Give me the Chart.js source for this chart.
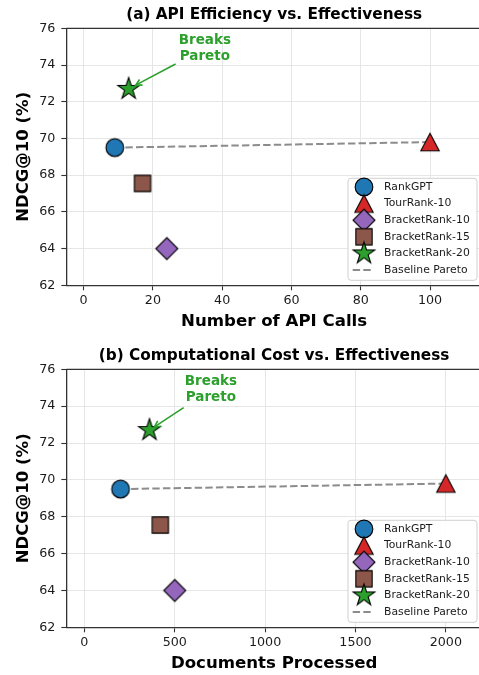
<!DOCTYPE html>
<html>
<head>
<meta charset="utf-8">
<script src="https://cdn.jsdelivr.net/npm/chart.js@4.4.1/dist/chart.umd.min.js"></script>
<style>
  html, body { margin: 0; padding: 0; background: #fff; overflow: hidden; width: 479px; height: 675px; }
  canvas { display: block; }
</style>
</head>
<body>
<canvas id="apiChart" width="482" height="340"></canvas>
<canvas id="docChart" width="482" height="335"></canvas>
<script>
// ---- data ----
const methods = ['RankGPT', 'TourRank-10', 'BracketRank-10', 'BracketRank-15', 'BracketRank-20'];
const ndcg = [69.5, 69.8, 64.0, 67.55, 72.7];
const apiCalls = [9, 100, 24, 17, 13];
const docsProcessed = [200, 2000, 500, 420, 360];
const paretoMethods = ['RankGPT', 'TourRank-10'];
const callTicks = [0, 20, 40, 60, 80, 100];
const docTicks = [0, 500, 1000, 1500, 2000];
const ndcgTicks = [62, 64, 66, 68, 70, 72, 74, 76];
const highlight = 'BracketRank-20';
const highlightText = ['Breaks', 'Pareto'];

// ---- styling ----
const colors = ['#1f77b4', '#d62728', '#9467bd', '#8c564b', '#2ca02c'];
const shapes = ['circle', 'triangle', 'diamond', 'square', 'star'];
const FONT = '"DejaVu Sans", "Liberation Sans", sans-serif';
const GREEN = '#2ca02c';

function makeMarker(kind, fill) {
  const size = 28;
  const c = document.createElement('canvas');
  c.width = size; c.height = size;
  const g = c.getContext('2d');
  g.translate(size / 2, size / 2);
  g.beginPath();
  if (kind === 'circle') {
    g.arc(0, 0, 8.85, 0, Math.PI * 2);
  } else if (kind === 'triangle') {
    g.moveTo(0, -8.7); g.lineTo(9.2, 8.7); g.lineTo(-9.2, 8.7); g.closePath();
  } else if (kind === 'diamond') {
    g.moveTo(0, -11); g.lineTo(11, 0); g.lineTo(0, 11); g.lineTo(-11, 0); g.closePath();
  } else if (kind === 'square') {
    g.rect(-8.15, -8.15, 16.3, 16.3);
  } else {
    const R = 11.4, r = R * 0.381966;
    for (let i = 0; i < 10; i++) {
      const rad = (i % 2 === 0) ? R : r;
      const a = -Math.PI / 2 + i * Math.PI / 5;
      const px = Math.cos(a) * rad, py = Math.sin(a) * rad;
      if (i === 0) g.moveTo(px, py); else g.lineTo(px, py);
    }
    g.closePath();
  }
  g.fillStyle = fill;
  g.fill();
  g.lineWidth = 1.1;
  g.strokeStyle = '#000';
  g.lineJoin = 'miter';
  g.stroke();
  return c;
}
const markers = shapes.map((s, i) => makeMarker(s, colors[i]));

const figurePlugin = {
  id: 'figureExtras',
  afterDraw(chart, args, o) {
    const ctx = chart.ctx;
    const a = chart.chartArea;
    const xs = chart.scales.x, ys = chart.scales.y;
    ctx.save();

    // top spine
    ctx.strokeStyle = '#333';
    ctx.lineWidth = 1.3;
    ctx.beginPath();
    ctx.moveTo(a.left, a.top);
    ctx.lineTo(a.right, a.top);
    ctx.stroke();

    // title
    ctx.fillStyle = '#000';
    ctx.font = 'bold 15.3px ' + FONT;
    ctx.textAlign = 'center';
    ctx.textBaseline = 'middle';
    ctx.fillText(o.title, (a.left + a.right) / 2, o.titleY);

    // highlight annotation with arrow
    const hi = methods.indexOf(highlight);
    const sx = xs.getPixelForValue(o.xValues[hi]);
    const sy = ys.getPixelForValue(ndcg[hi]);
    const tx = xs.getPixelForValue(o.noteX);
    const ty = ys.getPixelForValue(o.noteY);
    ctx.font = 'bold 13.5px ' + FONT;
    ctx.fillStyle = GREEN;
    const lh = 16.6;
    highlightText.forEach((t, i) => {
      ctx.fillText(t, tx, ty + (i - (highlightText.length - 1) / 2) * lh);
    });
    const w = Math.max(...highlightText.map(t => ctx.measureText(t).width)) / 2 + 1;
    const h = highlightText.length * lh / 2;
    const dx = sx - tx, dy = sy - ty;
    const tEdge = Math.min(Math.abs(w / dx), Math.abs(h / dy));
    const len = Math.hypot(dx, dy);
    const ux = dx / len, uy = dy / len;
    const startD = tEdge * len + 2.5;
    const endD = len - o.tipGap;
    const x0 = tx + ux * startD, y0 = ty + uy * startD;
    const x1 = tx + ux * endD, y1 = ty + uy * endD;
    ctx.strokeStyle = GREEN;
    ctx.lineWidth = 1.6;
    ctx.lineCap = 'butt';
    ctx.beginPath();
    ctx.moveTo(x0, y0); ctx.lineTo(x1, y1);
    ctx.stroke();
    const hl = 6, hw = 3.2;
    ctx.beginPath();
    ctx.moveTo(x1 - ux * hl - uy * hw, y1 - uy * hl + ux * hw);
    ctx.lineTo(x1, y1);
    ctx.lineTo(x1 - ux * hl + uy * hw, y1 - uy * hl - ux * hw);
    ctx.stroke();

    // legend box (lower right)
    const bw = 129, bh = 102;
    const bx = a.right - 5 - bw, by = a.bottom - 5 - bh;
    ctx.beginPath();
    if (ctx.roundRect) ctx.roundRect(bx, by, bw, bh, 3); else ctx.rect(bx, by, bw, bh);
    ctx.fillStyle = 'rgba(255,255,255,0.9)';
    ctx.fill();
    ctx.strokeStyle = '#d0d0d0';
    ctx.lineWidth = 1;
    ctx.stroke();
    ctx.font = '10.8px ' + FONT;
    ctx.textAlign = 'left';
    ctx.textBaseline = 'middle';
    const rowH = 16.6;
    const items = chart.data.datasets;
    items.forEach((ds, i) => {
      const cy = by + 8.7 + i * rowH;
      if (ds.showLine) {
        ctx.strokeStyle = ds.borderColor;
        ctx.lineWidth = ds.borderWidth;
        ctx.setLineDash(ds.borderDash);
        ctx.beginPath();
        ctx.moveTo(bx + 4.7, cy);
        ctx.lineTo(bx + 24.5, cy);
        ctx.stroke();
        ctx.setLineDash([]);
      } else {
        const m = ds.pointStyle;
        ctx.drawImage(m, bx + 16 - m.width / 2, cy - m.height / 2);
      }
      ctx.fillStyle = '#1a1a1a';
      ctx.fillText(ds.label, bx + 36, cy);
    });
    ctx.restore();
  }
};

function buildChart(id, cfg) {
  const canvas = document.getElementById(id);
  const H = canvas.height;
  const datasets = methods.map((m, i) => ({
    label: m,
    data: [{ x: cfg.xValues[i], y: ndcg[i] }],
    pointStyle: markers[i],
    pointRadius: 10,
    pointHoverRadius: 10,
    backgroundColor: colors[i],
    borderColor: '#000',
    order: 4 - i
  }));
  datasets.push({
    label: 'Baseline Pareto',
    data: paretoMethods.map(m => {
      const k = methods.indexOf(m);
      return { x: cfg.xValues[k], y: ndcg[k] };
    }),
    showLine: true,
    pointRadius: 0,
    borderColor: 'rgba(128,128,128,0.9)',
    borderWidth: 2,
    borderDash: [7.4, 3.2],
    order: 10
  });

  const zeroPad = s => {
    s.paddingLeft = 0; s.paddingRight = 0; s.paddingTop = 0; s.paddingBottom = 0;
    if (s._margins) { s._margins.left = 0; s._margins.right = 0; s._margins.top = 0; s._margins.bottom = 0; }
  };

  return new Chart(canvas, {
    type: 'scatter',
    data: { datasets },
    plugins: [figurePlugin],
    options: {
      responsive: false,
      animation: false,
      devicePixelRatio: 1,
      layout: { autoPadding: false, padding: { top: cfg.areaTop, left: 0, right: 0, bottom: 0 } },
      plugins: {
        legend: { display: false },
        tooltip: { enabled: false },
        figureExtras: {
          title: cfg.title, titleY: cfg.titleY, xValues: cfg.xValues,
          noteX: cfg.noteX, noteY: cfg.noteY, tipGap: cfg.tipGap
        }
      },
      scales: {
        x: {
          type: 'linear',
          min: cfg.xMin, max: cfg.xMax,
          afterBuildTicks: s => { s.ticks = cfg.xTicks.map(v => ({ value: v })); },
          afterFit: s => {
            s.height = H - cfg.areaBottom;
            zeroPad(s);
          },
          grid: { color: '#e6e6e6', lineWidth: 1, tickLength: 5, tickColor: '#333', tickWidth: 1.1 },
          border: { display: true, color: '#333', width: 1.3 },
          ticks: {
            color: '#1a1a1a', font: { family: FONT, size: 12.7 }, padding: 3, maxRotation: 0,
            callback: v => String(v)
          },
          title: {
            display: true, text: cfg.xTitle, color: '#000',
            font: { family: FONT, size: 16.6, weight: 'bold' },
            padding: { top: 0, bottom: cfg.xTitlePad }
          }
        },
        y: {
          type: 'linear',
          min: 62, max: 76,
          afterBuildTicks: s => { s.ticks = ndcgTicks.map(v => ({ value: v })); },
          afterFit: s => {
            s.width = 66.3;
            zeroPad(s);
          },
          grid: { color: '#e6e6e6', lineWidth: 1, tickLength: 5, tickColor: '#333', tickWidth: 1.1 },
          border: { display: true, color: '#333', width: 1.3 },
          ticks: { color: '#1a1a1a', font: { family: FONT, size: 12.7 }, padding: 6, callback: v => String(v) },
          title: {
            display: true, text: 'NDCG@10 (%)', color: '#000',
            font: { family: FONT, size: 16.5, weight: 'bold' },
            padding: { top: 14, bottom: 0 }
          }
        }
      }
    }
  });
}

buildChart('apiChart', {
  title: '(a) API Efficiency vs. Effectiveness',
  titleY: 15,
  xTitle: 'Number of API Calls',
  xValues: apiCalls,
  xTicks: callTicks,
  xMin: -5, xMax: 115,
  areaTop: 28.3, areaBottom: 285.3,
  xTitlePad: 8,
  noteX: 35, noteY: 74.9, tipGap: 8
});

buildChart('docChart', {
  title: '(b) Computational Cost vs. Effectiveness',
  titleY: 16,
  xTitle: 'Documents Processed',
  xValues: docsProcessed,
  xTicks: docTicks,
  xMin: -100, xMax: 2200,
  areaTop: 29.3, areaBottom: 287.3,
  xTitlePad: 1.7,
  noteX: 700, noteY: 74.9, tipGap: 6
});
</script>
</body>
</html>
